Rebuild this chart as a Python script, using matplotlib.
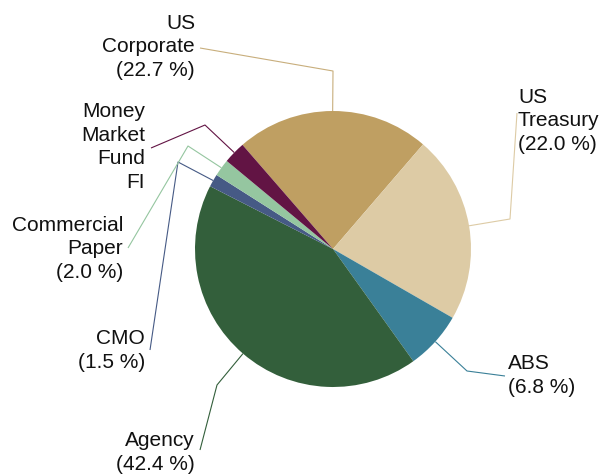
import numpy as np
import matplotlib.pyplot as plt

# Portfolio allocation
labels = ['US\nCorporate', 'US\nTreasury', 'ABS', 'Agency', 'CMO',
          'Commercial\nPaper', 'Money\nMarket\nFund\nFI']
values = [22.7, 22.0, 6.8, 42.4, 1.5, 2.0, 2.6]
show_pct = [True, True, True, True, True, True, False]
colors = ['#BF9F62', '#DDCBA5', '#3A8098', '#335F3B', '#465A85',
          '#95C6A0', '#621444']
line_colors = ['#C8AE7C', '#DDCBA5', '#3A8098', '#335F3B', '#465A85',
               '#95C6A0', '#621444']

W, H = 604, 476
fig = plt.figure(figsize=(W / 100, H / 100), dpi=100)
ax = fig.add_axes([0, 0, 1, 1])

plt.rcParams['font.family'] = ['Liberation Sans', 'DejaVu Sans']

cx, cy, r = 333, H - 249, 138
wedges, _ = ax.pie(values, colors=colors, startangle=131, counterclock=False,
                   center=(cx, cy), radius=r, frame=True,
                   wedgeprops=dict(linewidth=0))
ax.set_xlim(0, W)
ax.set_ylim(0, H)
ax.set_aspect('equal')
ax.axis('off')

# label layout (pixel coords, y measured from top): elbow points, text anchor, alignment
layout = [
    dict(path=[(333, 71), (200, 48)], text=(195, 47), ha='right'),
    dict(path=[(510, 219), (517, 113)], text=(518, 121), ha='left'),
    dict(path=[(467, 371), (505, 376)], text=(508, 375.5), ha='left'),
    dict(path=[(217, 385), (200, 450)], text=(195, 452.5), ha='right'),
    dict(path=[(178, 162), (150, 350)], text=(145, 350.5), ha='right'),
    dict(path=[(188, 146), (128, 248)], text=(123, 249), ha='right'),
    dict(path=[(205, 125), (151, 148)], text=(145, 147), ha='right'),
]

for w, lab, val, pct, lc, lay in zip(wedges, labels, values, show_pct,
                                     line_colors, layout):
    mid = np.deg2rad((w.theta1 + w.theta2) / 2)
    pts = [(cx + r * np.cos(mid), cy + r * np.sin(mid))]
    pts += [(x, H - y) for x, y in lay['path']]
    xs, ys = zip(*pts)
    ax.plot(xs, ys, color=lc, lw=0.8, solid_capstyle='butt')
    txt = lab + (f'\n({val:.1f} %)' if pct else '')
    tx, ty = lay['text']
    ax.text(tx, H - ty, txt, ha=lay['ha'], va='center', fontsize=15,
            color='#111111', multialignment=lay['ha'], linespacing=1.3)

plt.savefig('out.png', dpi=100)
